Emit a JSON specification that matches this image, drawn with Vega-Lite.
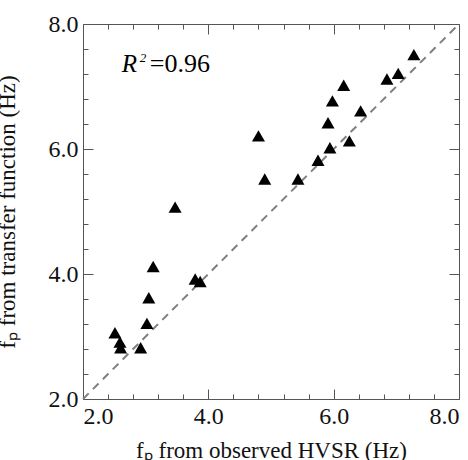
{
  "$schema": "https://vega.github.io/schema/vega-lite/v6.json",
  "width": 376,
  "height": 375,
  "autosize": {"type": "none"},
  "padding": {"left": 83, "top": 24, "right": 9, "bottom": 61},
  "background": "white",
  "config": {
    "view": {"stroke": null},
    "axis": {"grid": false}
  },
  "datasets": {
    "pts": [
      {"hvsr": 7.28, "tf": 7.51},
      {"hvsr": 7.03, "tf": 7.21},
      {"hvsr": 6.85, "tf": 7.12},
      {"hvsr": 6.16, "tf": 7.02},
      {"hvsr": 5.98, "tf": 6.77},
      {"hvsr": 6.43, "tf": 6.61},
      {"hvsr": 5.91, "tf": 6.42},
      {"hvsr": 4.80, "tf": 6.21},
      {"hvsr": 5.94, "tf": 6.02},
      {"hvsr": 6.25, "tf": 6.13},
      {"hvsr": 5.75, "tf": 5.82},
      {"hvsr": 4.90, "tf": 5.52},
      {"hvsr": 5.43, "tf": 5.52},
      {"hvsr": 3.47, "tf": 5.07},
      {"hvsr": 3.12, "tf": 4.12},
      {"hvsr": 3.79, "tf": 3.92},
      {"hvsr": 3.87, "tf": 3.88},
      {"hvsr": 3.05, "tf": 3.62},
      {"hvsr": 3.02, "tf": 3.21},
      {"hvsr": 2.51, "tf": 3.06},
      {"hvsr": 2.59, "tf": 2.91},
      {"hvsr": 2.60, "tf": 2.82},
      {"hvsr": 2.92, "tf": 2.82}
    ],
    "diag": [
      {"hvsr": 2, "tf": 2},
      {"hvsr": 8, "tf": 8}
    ],
    "ann": [
      {"hvsr": 2.62, "tf": 7.23, "r": "R", "sup": "2", "rest": "=0.96"}
    ]
  },
  "layer": [
    {
      "data": {"name": "diag"},
      "mark": {"type": "line", "color": "#808080", "strokeDash": [8, 6], "strokeWidth": 2},
      "encoding": {
        "x": {
          "field": "hvsr", "type": "quantitative",
          "scale": {"domain": [2, 8], "nice": false},
          "axis": {
            "orient": "bottom",
            "values": [2, 2.4, 2.8, 3.2, 3.6, 4, 4.4, 4.8, 5.2, 5.6, 6, 6.4, 6.8, 7.2, 7.6, 8],
            "tickSize": {"condition": {"test": "indexof([2,4,6,8], datum.value) >= 0", "value": -10}, "value": -5},
            "labelExpr": "indexof([2,4,6,8], datum.value) >= 0 ? datum.label : ''",
            "labelPadding": 15, "labelOverlap": false,
            "domainColor": "#555555", "tickColor": "#555555",
            "labelFont": "Liberation Serif", "labelFontSize": 24, "labelColor": "#111111",
            "titleFont": "Liberation Serif", "titleFontSize": 23, "titleColor": "#111111", "titleFontWeight": "normal",
            "title": "fₚ from observed HVSR (Hz)", "titlePadding": 6
          }
        },
        "y": {
          "field": "tf", "type": "quantitative",
          "scale": {"domain": [2, 8], "nice": false},
          "axis": {
            "orient": "left",
            "values": [2, 2.4, 2.8, 3.2, 3.6, 4, 4.4, 4.8, 5.2, 5.6, 6, 6.4, 6.8, 7.2, 7.6, 8],
            "tickSize": {"condition": {"test": "indexof([2,4,6,8], datum.value) >= 0", "value": -10}, "value": -5},
            "labelExpr": "indexof([2,4,6,8], datum.value) >= 0 ? datum.label : ''",
            "labelPadding": 15, "labelOverlap": false,
            "domainColor": "#555555", "tickColor": "#555555",
            "labelFont": "Liberation Serif", "labelFontSize": 24, "labelColor": "#111111",
            "titleFont": "Liberation Serif", "titleFontSize": 23, "titleColor": "#111111", "titleFontWeight": "normal",
            "title": "fₚ from transfer function (Hz)", "titlePadding": 29
          }
        }
      }
    },
    {
      "data": {"name": "pts"},
      "mark": {"type": "point", "shape": "triangle-up", "filled": true, "color": "black", "opacity": 1, "size": 170},
      "encoding": {
        "x": {
          "field": "hvsr", "type": "quantitative",
          "axis": {
            "orient": "top",
            "values": [2, 2.4, 2.8, 3.2, 3.6, 4, 4.4, 4.8, 5.2, 5.6, 6, 6.4, 6.8, 7.2, 7.6, 8],
            "tickSize": {"condition": {"test": "indexof([2,4,6,8], datum.value) >= 0", "value": -10}, "value": -5},
            "domainColor": "#555555", "tickColor": "#555555",
            "labels": false, "title": null
          }
        },
        "y": {
          "field": "tf", "type": "quantitative",
          "axis": {
            "orient": "right",
            "values": [2, 2.4, 2.8, 3.2, 3.6, 4, 4.4, 4.8, 5.2, 5.6, 6, 6.4, 6.8, 7.2, 7.6, 8],
            "tickSize": {"condition": {"test": "indexof([2,4,6,8], datum.value) >= 0", "value": -10}, "value": -5},
            "domainColor": "#555555", "tickColor": "#555555",
            "labels": false, "title": null
          }
        }
      }
    },
    {
      "data": {"name": "ann"},
      "mark": {"type": "text", "font": "Liberation Serif", "fontSize": 25, "fontStyle": "italic", "align": "left", "baseline": "alphabetic", "color": "black"},
      "encoding": {
        "text": {"field": "r"},
        "x": {"field": "hvsr", "type": "quantitative", "axis": null},
        "y": {"field": "tf", "type": "quantitative", "axis": null}
      }
    },
    {
      "data": {"name": "ann"},
      "mark": {"type": "text", "font": "Liberation Serif", "fontSize": 13, "fontStyle": "italic", "align": "left", "baseline": "alphabetic", "dx": 18, "dy": -10, "color": "black"},
      "encoding": {
        "text": {"field": "sup"},
        "x": {"field": "hvsr", "type": "quantitative", "axis": null},
        "y": {"field": "tf", "type": "quantitative", "axis": null}
      }
    },
    {
      "data": {"name": "ann"},
      "mark": {"type": "text", "font": "Liberation Serif", "fontSize": 26, "align": "left", "baseline": "alphabetic", "dx": 28, "color": "black"},
      "encoding": {
        "text": {"field": "rest"},
        "x": {"field": "hvsr", "type": "quantitative", "axis": null},
        "y": {"field": "tf", "type": "quantitative", "axis": null}
      }
    }
  ],
  "resolve": {"axis": {"x": "independent", "y": "independent"}}
}
